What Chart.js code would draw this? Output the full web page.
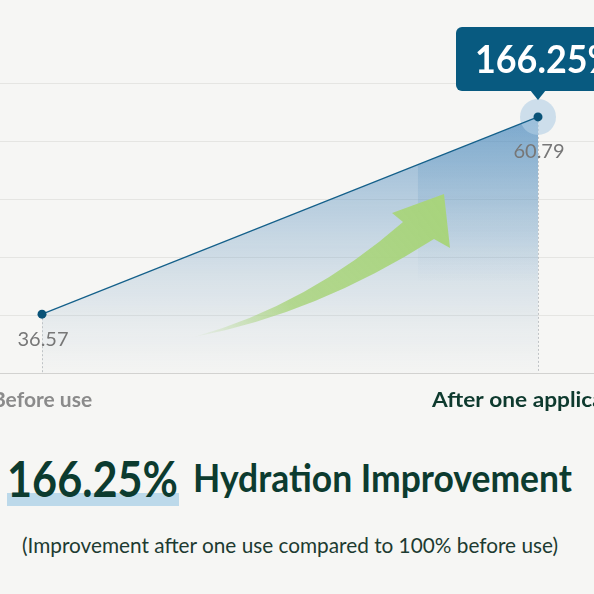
<!DOCTYPE html>
<html>
<head>
<meta charset="utf-8">
<script src="https://cdn.jsdelivr.net/npm/chart.js@4.4.1/dist/chart.umd.min.js"></script>
<style>
  html,body{margin:0;padding:0;background:#f6f6f4;}
  body{width:594px;height:594px;overflow:hidden;position:relative;font-family:Lato,"Noto Sans",sans-serif;}
  #wrap{position:absolute;left:0;top:0;width:594px;height:430px;}
  .t{position:absolute;line-height:1;white-space:nowrap;transform-origin:left top;}
  #big{left:7px;top:453px;font-size:50px;font-weight:700;color:#0c3b2f;}
  #bar{position:absolute;left:7px;top:493px;width:172px;height:13px;background:#bcd9ea;}
  #rest{left:193px;top:458px;font-size:39px;font-weight:700;color:#0c3b2f;}
  #sub{left:22px;top:534px;font-size:22px;color:#1d3b31;}
</style>
</head>
<body>
<div id="wrap"><canvas id="c" width="594" height="430"></canvas></div>
<div id="bar"></div>
<div id="big" class="t">166.25%</div>
<div id="rest" class="t">Hydration Improvement</div>
<div id="sub" class="t">(Improvement after one use compared to 100% before use)</div>
<script>
// ---- data ----
const categories = ['Before use', 'After one application'];
const values = [36.57, 60.79];
const valueLabels = ['36.57', '60.79'];
const categoryColors = ['#8b8b8b', '#0e3a2e'];
const calloutLabel = '166.25%';
const yGridStart = 29.35;
const yGridStep = 7.1;
const yGridLines = 6;

// fit html text blocks to the reference widths
function fitWidth(id, target) {
  const el = document.getElementById(id);
  const w = el.getBoundingClientRect().width;
  el.style.transform = 'scaleX(' + (target / w) + ')';
}
fitWidth('big', 171);
fitWidth('rest', 379);
fitWidth('sub', 536);

// scale window (data units)
const xMin = -42 / 496, xMax = xMin + 594 / 496;
const yMin = yGridStart, yMax = yGridStart + yGridStep * 6;
const bandStart = 0.758;

// decorative arrow in data units [x, y]
function dy(py){ return yGridStart + (373 - py) * (yGridStep / 57.83); }
function dx(px){ return (px - 42) / 496; }
const arrowTail = [dx(194), dy(337)];
const arrowLowCtrl = [dx(316), dy(314)];
const arrowRightNotch = [dx(434), dy(239)];
const arrowRightWing = [dx(450), dy(248)];
const arrowTip = [dx(444), dy(194)];
const arrowLeftWing = [dx(392), dy(213)];
const arrowLeftNotch = [dx(403), dy(222)];
const arrowUpCtrl = [dx(308), dy(305)];

const decor = {
  id: 'decor',
  beforeDatasetDraw(chart) {
    const {ctx, scales: {x, y}, chartArea} = chart;
    const meta = chart.getDatasetMeta(0);
    const p1 = meta.data[0], p2 = meta.data[1];
    const base = y.getPixelForValue(y.min);
    const P = (a) => [x.getPixelForValue(a[0]), y.getPixelForValue(a[1])];

    // darker band under the line
    ctx.save();
    ctx.beginPath();
    ctx.moveTo(p1.x, p1.y); ctx.lineTo(p2.x, p2.y); ctx.lineTo(p2.x, base); ctx.lineTo(p1.x, base); ctx.closePath();
    ctx.clip();
    const bx = x.getPixelForValue(bandStart);
    const g = ctx.createLinearGradient(0, p2.y, 0, base);
    g.addColorStop(0, 'rgba(50,120,175,0.22)');
    g.addColorStop(0.65, 'rgba(50,120,175,0)');
    ctx.fillStyle = g;
    ctx.fillRect(bx, chartArea.top, p2.x - bx, base - chartArea.top);
    ctx.restore();

    // dotted drop lines
    ctx.save();
    ctx.strokeStyle = '#bfc3c6';
    ctx.lineWidth = 1;
    ctx.setLineDash([2, 2]);
    [p1, p2].forEach(p => {
      ctx.beginPath();
      ctx.moveTo(Math.round(p.x) + 0.5, p.y);
      ctx.lineTo(Math.round(p.x) + 0.5, base);
      ctx.stroke();
    });
    ctx.restore();

    // green arrow
    const T = P(arrowTail), LC = P(arrowLowCtrl), RN = P(arrowRightNotch), RW = P(arrowRightWing),
          TP = P(arrowTip), LW = P(arrowLeftWing), LN = P(arrowLeftNotch), UC = P(arrowUpCtrl);
    ctx.save();
    const ag = ctx.createLinearGradient(T[0], T[1], TP[0], TP[1]);
    ag.addColorStop(0, 'rgba(170,212,126,0.03)');
    ag.addColorStop(0.35, 'rgba(170,212,126,0.85)');
    ag.addColorStop(1, 'rgba(168,212,124,1)');
    ctx.fillStyle = ag;
    ctx.beginPath();
    ctx.moveTo(T[0], T[1]);
    ctx.quadraticCurveTo(LC[0], LC[1], RN[0], RN[1]);
    ctx.lineTo(RW[0], RW[1]);
    ctx.lineTo(TP[0], TP[1]);
    ctx.lineTo(LW[0], LW[1]);
    ctx.lineTo(LN[0], LN[1]);
    ctx.quadraticCurveTo(UC[0], UC[1], T[0], T[1]);
    ctx.closePath();
    ctx.fill();
    ctx.restore();

    // halo around last point
    ctx.save();
    ctx.fillStyle = 'rgba(178,207,229,0.6)';
    ctx.beginPath();
    ctx.arc(p2.x, p2.y, 18, 0, Math.PI * 2);
    ctx.fill();
    ctx.restore();
  },
  afterDatasetsDraw(chart) {
    const {ctx, scales: {y}} = chart;
    const meta = chart.getDatasetMeta(0);
    const base = y.getPixelForValue(y.min);
    ctx.save();
    // value labels
    ctx.font = '400 20px Lato';
    ctx.fillStyle = '#777777';
    ctx.textAlign = 'center';
    ctx.textBaseline = 'middle';
    meta.data.forEach((p, i) => {
      const off = i === meta.data.length - 1 ? 35 : 25;
      ctx.fillText(valueLabels[i], p.x + 1, p.y + off);
    });
    // category labels
    ctx.font = '700 21px Lato';
    meta.data.forEach((p, i) => {
      ctx.fillStyle = categoryColors[i];
      ctx.save();
      ctx.translate(p.x, base + 27);
      ctx.scale(i === 0 ? 1 : 1.08, 1);
      ctx.fillText(categories[i], 0, 0);
      ctx.restore();
    });
    // callout box
    const p = meta.data[meta.data.length - 1];
    ctx.fillStyle = '#085a80';
    ctx.beginPath();
    ctx.roundRect(p.x - 82, p.y - 90, 240, 64, 6);
    ctx.fill();
    ctx.beginPath();
    ctx.moveTo(p.x - 8, p.y - 27);
    ctx.lineTo(p.x + 8, p.y - 27);
    ctx.lineTo(p.x, p.y - 17);
    ctx.closePath();
    ctx.fill();
    ctx.fillStyle = '#ffffff';
    ctx.font = '700 39px Lato';
    ctx.textAlign = 'left';
    ctx.textBaseline = 'alphabetic';
    ctx.translate(p.x - 63, p.y - 44);
    ctx.scale(0.92, 1);
    ctx.fillText(calloutLabel, 0, 0);
    ctx.restore();
  }
};

const ctx = document.getElementById('c').getContext('2d');
new Chart(ctx, {
  type: 'line',
  data: {
    datasets: [{
      data: values.map((v, i) => ({x: i, y: v})),
      borderColor: '#14608a',
      borderWidth: 1.3,
      pointRadius: 4.5,
      pointBackgroundColor: '#0a5378',
      pointBorderWidth: 0,
      pointHoverRadius: 4.5,
      tension: 0,
      fill: 'start',
      backgroundColor: (c) => {
        const ch = c.chart;
        const area = ch.chartArea;
        if (!area) return 'rgba(0,0,0,0)';
        const ys = ch.scales.y;
        const top = ys.getPixelForValue(values[values.length - 1]);
        const bot = ys.getPixelForValue(ys.min);
        const g = ch.ctx.createLinearGradient(0, top, 0, bot);
        g.addColorStop(0, 'rgba(85,145,195,0.64)');
        g.addColorStop(0.5, 'rgba(100,150,192,0.30)');
        g.addColorStop(1, 'rgba(150,175,198,0.02)');
        return g;
      }
    }]
  },
  options: {
    responsive: false,
    animation: false,
    events: [],
    layout: {autoPadding: false, padding: {top: 26, bottom: 57, left: 0, right: 0}},
    plugins: {legend: {display: false}, tooltip: {enabled: false}},
    scales: {
      x: {type: 'linear', min: xMin, max: xMax, display: false},
      y: {
        type: 'linear', min: yMin, max: yMax,
        afterBuildTicks: (axis) => {
          axis.ticks = Array.from({length: yGridLines}, (_, i) => ({value: yGridStart + i * yGridStep}));
        },
        ticks: {display: false},
        border: {display: false},
        grid: {
          drawTicks: false,
          color: (c) => c.index === 0 ? '#d2d2d0' : '#e5e5e2',
          lineWidth: 1
        }
      }
    }
  },
  plugins: [decor]
});
</script>
</body>
</html>
